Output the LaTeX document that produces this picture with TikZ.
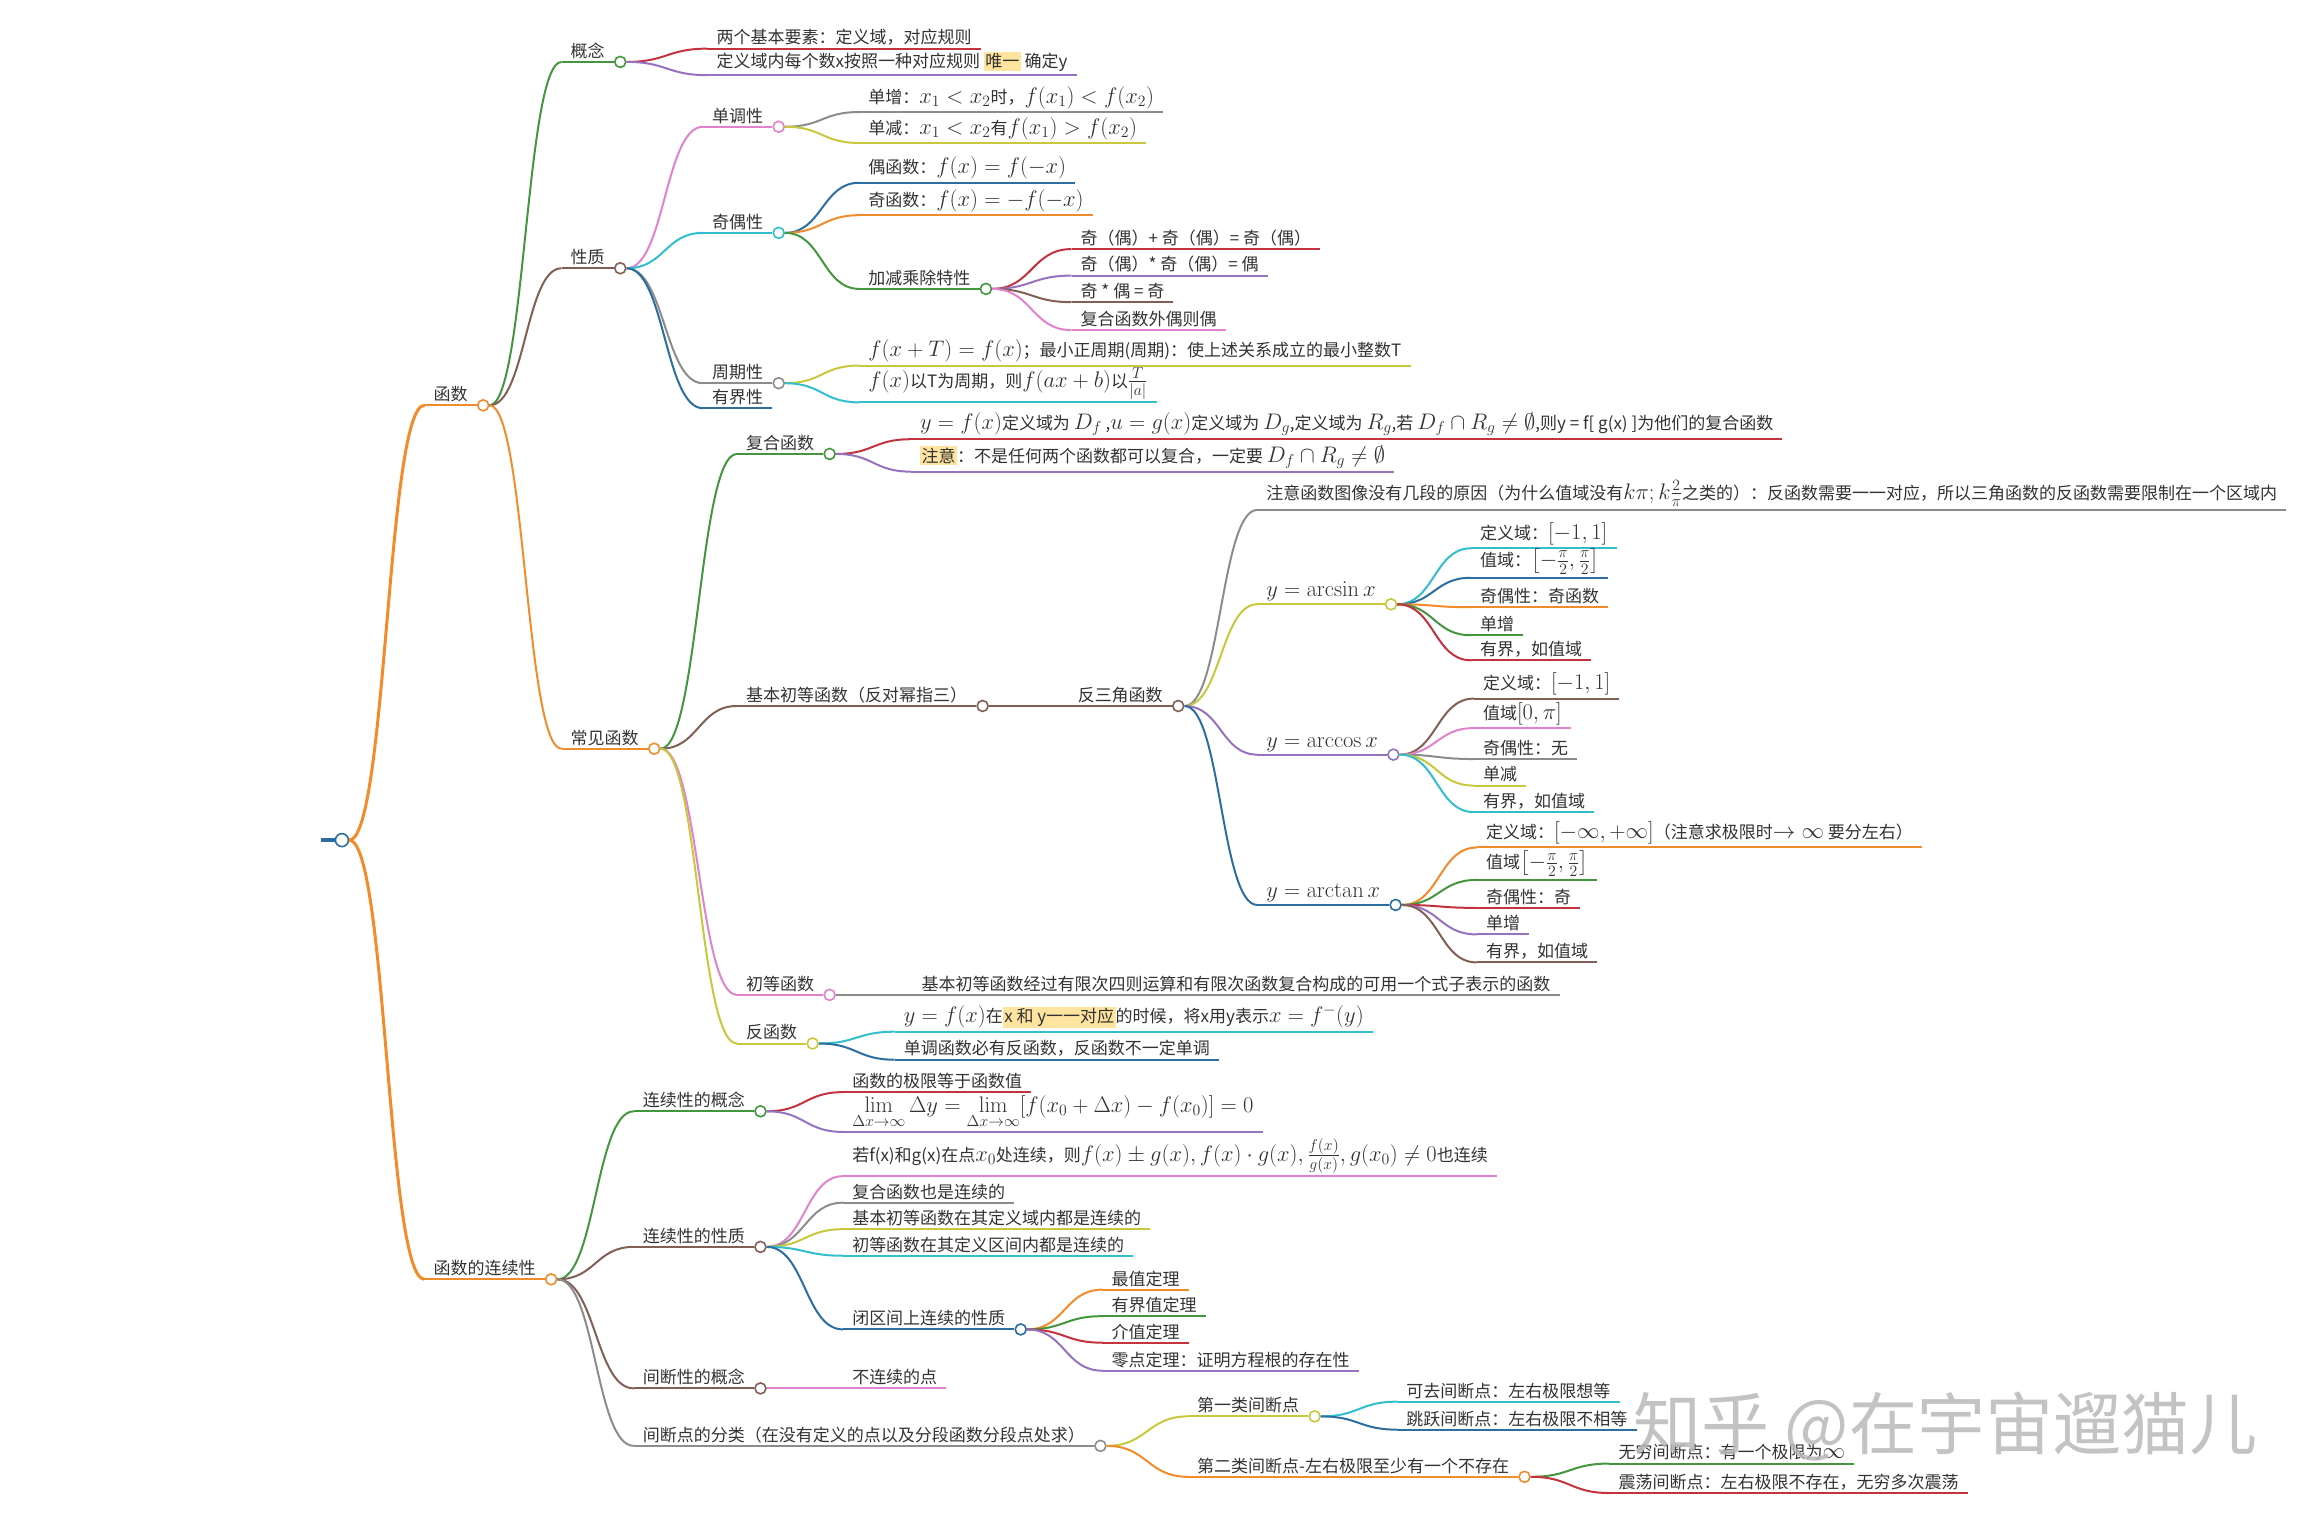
\RequirePackage{fix-cm}
\documentclass[tikz,border=0pt]{standalone}
\usepackage[no-math]{fontspec}
\setmainfont{Noto Sans CJK SC}
\usepackage{amsmath}
\usepackage{tikz}
\usetikzlibrary{calc}
\definecolor{morange}{RGB}{242,140,42}
\definecolor{mgreen}{RGB}{68,150,62}
\definecolor{mbrown}{RGB}{130,95,85}
\definecolor{mpink}{RGB}{225,130,205}
\definecolor{mcyan}{RGB}{50,190,205}
\definecolor{mgray}{RGB}{140,140,140}
\definecolor{mblue}{RGB}{45,110,160}
\definecolor{mred}{RGB}{195,50,62}
\definecolor{mpurple}{RGB}{150,115,190}
\definecolor{molive}{RGB}{200,200,60}
\definecolor{hlyellow}{RGB}{255,228,160}
\definecolor{txtgray}{RGB}{50,50,50}
\newcommand{\km}[1]{{\fontsize{22.5}{26}\selectfont$#1$}}
\newcommand{\hlbox}[1]{{\setlength{\fboxsep}{1.5pt}\colorbox{hlyellow}{#1}}}
\tikzset{
    % text sitting on a coloured underline
    topic/.style={anchor=south west, inner xsep=9pt, inner ysep=3pt,
                text=txtgray, font=\fontsize{17}{20}\selectfont,
                append after command={(\tikzlastnode.south west)
                    edge[draw=#1, line width=2pt] (\tikzlastnode.south east)}},
    % knot at the end of a topic with children
    knot/.style={circle, draw=#1, fill=white, line width=1.6pt,
                minimum size=11pt, inner sep=0pt, anchor=west},
    % curved branch, knot -> child
    branch/.style={draw=#1, line width=2pt,
                to path={let \p1=(\tikztostart), \p2=(\tikztotarget),
                    \p3=($(\p1)!0.5!(\p2)$) in
                    .. controls (\x3,\y1) and (\x3,\y2) .. (\p2)}},
}
\begin{document}
\begin{tikzpicture}[x=1.474pt, y=-1.474pt]
\useasboundingbox (0,0) rectangle (1568,1031);

% Root
\node[knot=mblue, anchor=center, minimum size=13pt] (root) at (232,570) {};
\coordinate (stub) at (218,570);
\draw[mblue, line width=4pt] (stub) -- (root.west);

% Hanshu
\node[topic=morange] (hs) at (288,275) {函数};
\node[knot=morange] (hs-c) at (hs.south east) {};

% Gainian
\node[topic=mgreen] (gn) at (381,42) {概念};
\node[knot=mgreen] (gn-c) at (gn.south east) {};
\node[topic=mred] (gn1) at (480,33) {两个基本要素：定义域，对应规则};
\node[topic=mpurple] (gn2) at (480,51) {定义域内每个数x按照一种对应规则 \hlbox{唯一} 确定y};

% Xingzhi
\node[topic=mbrown] (xz) at (381,182) {性质};
\node[knot=mbrown] (xz-c) at (xz.south east) {};

\node[topic=mpink] (dd) at (477,86) {单调性};
\node[knot=mpink] (dd-c) at (dd.south east) {};
\node[topic=mgray] (dd1) at (583,76) {单增：\km{x_1<x_2}时，\km{f(x_1)<f(x_2)}};
\node[topic=molive] (dd2) at (583,97) {单减：\km{x_1<x_2}有\km{f(x_1)>f(x_2)}};

\node[topic=mcyan] (jo) at (477,158) {奇偶性};
\node[knot=mcyan] (jo-c) at (jo.south east) {};
\node[topic=mblue] (jo1) at (583,124) {偶函数：\km{f(x)=f(-x)}};
\node[topic=morange] (jo2) at (583,146) {奇函数：\km{f(x)=-f(-x)}};
\node[topic=mgreen] (jj) at (583,196) {加减乘除特性};
\node[knot=mgreen] (jj-c) at (jj.south east) {};
\node[topic=mred] (jj1) at (727,169) {奇（偶）+ 奇（偶）= 奇（偶）};
\node[topic=mpurple] (jj2) at (727,187) {奇（偶）* 奇（偶）= 偶};
\node[topic=mbrown] (jj3) at (727,205) {奇 * 偶 = 奇};
\node[topic=mpink] (jj4) at (727,224) {复合函数外偶则偶};

\node[topic=mgray] (zq) at (477,260) {周期性};
\node[knot=mgray] (zq-c) at (zq.south east) {};
\node[topic=molive] (zq1) at (583,248) {\km{f(x+T)=f(x)}；最小正周期(周期)：使上述关系成立的最小整数T};
\node[topic=mcyan] (zq2) at (583,273) {\km{f(x)}以T为周期，则\km{f(ax+b)}以\km{\frac{T}{|a|}}};

\node[topic=mblue] (yj) at (477,277) {有界性};

% Changjian hanshu
\node[topic=morange] (cj) at (381,508) {常见函数};
\node[knot=morange] (cj-c) at (cj.south east) {};

\node[topic=mgreen] (fh) at (500,308) {复合函数};
\node[knot=mgreen] (fh-c) at (fh.south east) {};
\node[topic=mred] (fh1) at (618,298) {\km{y=f(x)}定义域为 \km{D_f} ,\km{u=g(x)}定义域为 \km{D_g},定义域为 \km{R_g},若 \km{D_f\cap R_g\neq\emptyset},则y = f[ g(x) ]为他们的复合函数};
\node[topic=mpurple] (fh2) at (618,320) {\hlbox{注意}：不是任何两个函数都可以复合，一定要 \km{D_f\cap R_g\neq\emptyset}};

\node[topic=mbrown] (jb) at (500,479) {基本初等函数（反对幂指三）};
\node[knot=mbrown] (jb-c) at (jb.south east) {};
\node[topic=mbrown] (fs) at (725,479) {反三角函数};
\node[knot=mbrown] (fs-c) at (fs.south east) {};
\node[topic=mgray] (zy) at (853,346) {注意函数图像没有几段的原因（为什么值域没有\km{k\pi; k\frac{2}{\pi}}之类的）：反函数需要一一对应，所以三角函数的反函数需要限制在一个区域内};

\node[topic=molive] (asin) at (853,410) {\km{y=\arcsin x}};
\node[knot=molive] (asin-c) at (asin.south east) {};
\node[topic=mcyan] (as1) at (998,372) {定义域：\km{[-1,1]}};
\node[topic=mblue] (as2) at (998,392) {值域：\km{\left[-\frac{\pi}{2},\frac{\pi}{2}\right]}};
\node[topic=morange] (as3) at (998,412) {奇偶性：奇函数};
\node[topic=mgreen] (as4) at (998,431) {单增};
\node[topic=mred] (as5) at (998,448) {有界，如值域};

\node[topic=mpurple] (acos) at (853,512) {\km{y=\arccos x}};
\node[knot=mpurple] (acos-c) at (acos.south east) {};
\node[topic=mbrown] (ac1) at (1000,474) {定义域：\km{[-1,1]}};
\node[topic=mpink] (ac2) at (1000,494) {值域\km{[0,\pi]}};
\node[topic=mgray] (ac3) at (1000,515) {奇偶性：无};
\node[topic=molive] (ac4) at (1000,533) {单减};
\node[topic=mcyan] (ac5) at (1000,551) {有界，如值域};

\node[topic=mblue] (atan) at (853,614) {\km{y=\arctan x}};
\node[knot=mblue] (atan-c) at (atan.south east) {};
\node[topic=morange] (at1) at (1002,575) {定义域：\km{[-\infty,+\infty]}（注意求极限时\km{\to\infty} 要分左右）};
\node[topic=mgreen] (at2) at (1002,597) {值域\km{\left[-\frac{\pi}{2},\frac{\pi}{2}\right]}};
\node[topic=mred] (at3) at (1002,616) {奇偶性：奇};
\node[topic=mpurple] (at4) at (1002,634) {单增};
\node[topic=mbrown] (at5) at (1002,653) {有界，如值域};

\node[topic=mpink] (cd) at (500,675) {初等函数};
\node[knot=mpink] (cd-c) at (cd.south east) {};
\node[topic=mgray] (cd1) at (619,675) {基本初等函数经过有限次四则运算和有限次函数复合构成的可用一个式子表示的函数};

\node[topic=molive] (fhs) at (500,708) {反函数};
\node[knot=molive] (fhs-c) at (fhs.south east) {};
\node[topic=mcyan] (fhs1) at (607,700) {\km{y=f(x)}在\hlbox{x 和 y一一对应}的时候，将x用y表示\km{x=f^{-}(y)}};
\node[topic=mblue] (fhs2) at (607,719) {单调函数必有反函数，反函数不一定单调};

% Lianxuxing
\node[topic=morange] (lx) at (288,868) {函数的连续性};
\node[knot=morange] (lx-c) at (lx.south east) {};

\node[topic=mgreen] (lg) at (430,754) {连续性的概念};
\node[knot=mgreen] (lg-c) at (lg.south east) {};
\node[topic=mred] (lg1) at (572,741) {函数的极限等于函数值};
\node[topic=mpurple] (lg2) at (572,768) {\km{\lim\limits_{\Delta x\to\infty}\Delta y=\lim\limits_{\Delta x\to\infty}[f(x_0+\Delta x)-f(x_0)]=0}};

\node[topic=mbrown] (lz) at (430,846) {连续性的性质};
\node[knot=mbrown] (lz-c) at (lz.south east) {};
\node[topic=mpink] (lz1) at (572,798) {若f(x)和g(x)在点\km{x_0}处连续，则\km{f(x)\pm g(x), f(x)\cdot g(x), \frac{f(x)}{g(x)}, g(x_0)\neq 0}也连续};
\node[topic=mgray] (lz2) at (572,816) {复合函数也是连续的};
\node[topic=molive] (lz3) at (572,834) {基本初等函数在其定义域内都是连续的};
\node[topic=mcyan] (lz4) at (572,852) {初等函数在其定义区间内都是连续的};
\node[topic=mblue] (bq) at (572,902) {闭区间上连续的性质};
\node[knot=mblue] (bq-c) at (bq.south east) {};
\node[topic=morange] (bq1) at (748,875) {最值定理};
\node[topic=mgreen] (bq2) at (748,893) {有界值定理};
\node[topic=mred] (bq3) at (748,911) {介值定理};
\node[topic=mpurple] (bq4) at (748,930) {零点定理：证明方程根的存在性};

\node[topic=mbrown] (jd) at (430,942) {间断性的概念};
\node[knot=mbrown] (jd-c) at (jd.south east) {};
\node[topic=mpink] (jd1) at (572,942) {不连续的点};

\node[topic=mgray] (fl) at (430,981) {间断点的分类（在没有定义的点以及分段函数分段点处求）};
\node[knot=mgray] (fl-c) at (fl.south east) {};
\node[topic=molive] (d1) at (806,961) {第一类间断点};
\node[knot=molive] (d1-c) at (d1.south east) {};
\node[topic=mcyan] (d11) at (948,951) {可去间断点：左右极限想等};
\node[topic=mblue] (d12) at (948,970) {跳跃间断点：左右极限不相等};
\node[topic=morange] (d2) at (806,1002) {第二类间断点-左右极限至少有一个不存在};
\node[knot=morange] (d2-c) at (d2.south east) {};
\node[topic=mgreen] (d21) at (1092,993) {无穷间断点：有一个极限为\km{\infty}};
\node[topic=mred] (d22) at (1092,1013) {震荡间断点：左右极限不存在，无穷多次震荡};

% Branches
\draw[branch=morange, line width=3pt] (root.east) to (hs.south west);
\draw[branch=morange, line width=3pt] (root.east) to (lx.south west);

\draw[branch=mgreen] (hs-c.east) to (gn.south west);
\draw[branch=mbrown] (hs-c.east) to (xz.south west);
\draw[branch=morange] (hs-c.east) to (cj.south west);

\draw[branch=mred] (gn-c.east) to (gn1.south west);
\draw[branch=mpurple] (gn-c.east) to (gn2.south west);

\draw[branch=mpink] (xz-c.east) to (dd.south west);
\draw[branch=mcyan] (xz-c.east) to (jo.south west);
\draw[branch=mgray] (xz-c.east) to (zq.south west);
\draw[branch=mblue] (xz-c.east) to (yj.south west);
\draw[branch=mgray] (dd-c.east) to (dd1.south west);
\draw[branch=molive] (dd-c.east) to (dd2.south west);
\draw[branch=mblue] (jo-c.east) to (jo1.south west);
\draw[branch=morange] (jo-c.east) to (jo2.south west);
\draw[branch=mgreen] (jo-c.east) to (jj.south west);
\draw[branch=mred] (jj-c.east) to (jj1.south west);
\draw[branch=mpurple] (jj-c.east) to (jj2.south west);
\draw[branch=mbrown] (jj-c.east) to (jj3.south west);
\draw[branch=mpink] (jj-c.east) to (jj4.south west);
\draw[branch=molive] (zq-c.east) to (zq1.south west);
\draw[branch=mcyan] (zq-c.east) to (zq2.south west);

\draw[branch=mgreen] (cj-c.east) to (fh.south west);
\draw[branch=mbrown] (cj-c.east) to (jb.south west);
\draw[branch=mpink] (cj-c.east) to (cd.south west);
\draw[branch=molive] (cj-c.east) to (fhs.south west);
\draw[branch=mred] (fh-c.east) to (fh1.south west);
\draw[branch=mpurple] (fh-c.east) to (fh2.south west);
\draw[branch=mbrown] (jb-c.east) to (fs.south west);
\draw[branch=mgray] (fs-c.east) to (zy.south west);
\draw[branch=molive] (fs-c.east) to (asin.south west);
\draw[branch=mpurple] (fs-c.east) to (acos.south west);
\draw[branch=mblue] (fs-c.east) to (atan.south west);
\draw[branch=mcyan] (asin-c.east) to (as1.south west);
\draw[branch=mblue] (asin-c.east) to (as2.south west);
\draw[branch=morange] (asin-c.east) to (as3.south west);
\draw[branch=mgreen] (asin-c.east) to (as4.south west);
\draw[branch=mred] (asin-c.east) to (as5.south west);
\draw[branch=mbrown] (acos-c.east) to (ac1.south west);
\draw[branch=mpink] (acos-c.east) to (ac2.south west);
\draw[branch=mgray] (acos-c.east) to (ac3.south west);
\draw[branch=molive] (acos-c.east) to (ac4.south west);
\draw[branch=mcyan] (acos-c.east) to (ac5.south west);
\draw[branch=morange] (atan-c.east) to (at1.south west);
\draw[branch=mgreen] (atan-c.east) to (at2.south west);
\draw[branch=mred] (atan-c.east) to (at3.south west);
\draw[branch=mpurple] (atan-c.east) to (at4.south west);
\draw[branch=mbrown] (atan-c.east) to (at5.south west);
\draw[branch=mgray] (cd-c.east) to (cd1.south west);
\draw[branch=mcyan] (fhs-c.east) to (fhs1.south west);
\draw[branch=mblue] (fhs-c.east) to (fhs2.south west);

\draw[branch=mgreen] (lx-c.east) to (lg.south west);
\draw[branch=mbrown] (lx-c.east) to (lz.south west);
\draw[branch=mbrown] (lx-c.east) to (jd.south west);
\draw[branch=mgray] (lx-c.east) to (fl.south west);
\draw[branch=mred] (lg-c.east) to (lg1.south west);
\draw[branch=mpurple] (lg-c.east) to (lg2.south west);
\draw[branch=mpink] (lz-c.east) to (lz1.south west);
\draw[branch=mgray] (lz-c.east) to (lz2.south west);
\draw[branch=molive] (lz-c.east) to (lz3.south west);
\draw[branch=mcyan] (lz-c.east) to (lz4.south west);
\draw[branch=mblue] (lz-c.east) to (bq.south west);
\draw[branch=morange] (bq-c.east) to (bq1.south west);
\draw[branch=mgreen] (bq-c.east) to (bq2.south west);
\draw[branch=mred] (bq-c.east) to (bq3.south west);
\draw[branch=mpurple] (bq-c.east) to (bq4.south west);
\draw[branch=mpink] (jd-c.east) to (jd1.south west);
\draw[branch=molive] (fl-c.east) to (d1.south west);
\draw[branch=morange] (fl-c.east) to (d2.south west);
\draw[branch=mcyan] (d1-c.east) to (d11.south west);
\draw[branch=mblue] (d1-c.east) to (d12.south west);
\draw[branch=mgreen] (d2-c.east) to (d21.south west);
\draw[branch=mred] (d2-c.east) to (d22.south west);

% Watermark
\node[font=\fontsize{68}{72}\selectfont, text=gray!55, opacity=0.85] (mark) at (1320,968) {知乎 @在宇宙遛猫儿};

\end{tikzpicture}
\end{document}
